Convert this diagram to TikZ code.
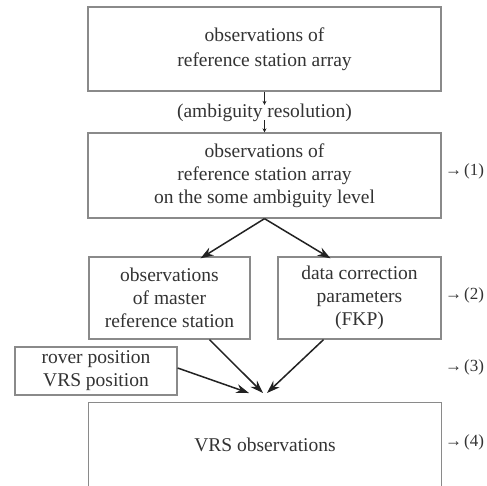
\documentclass[tikz,border=0pt]{standalone}
\usepackage{fontspec}
\setmainfont{Liberation Serif}
\usetikzlibrary{arrows.meta,calc}
\definecolor{boxgray}{HTML}{8A8A8A}
\definecolor{txt}{HTML}{333333}
\definecolor{arr}{HTML}{222222}
\begin{document}
\begin{tikzpicture}[x=1pt,y=-1pt,
  every node/.style={text=txt,font=\fontsize{19.5}{23}\selectfont,align=center,inner sep=0pt},
  box/.style={draw=boxgray,line width=1.3pt},
  bigarrow/.style={draw=arr,line width=1.5pt,-{Stealth[length=13pt,width=9pt]}},
  smallarrow/.style={draw=arr,line width=0.8pt,-{Stealth[length=4pt,width=4pt]}},
  lbl/.style={anchor=west,font=\fontsize{17}{20}\selectfont}]
\useasboundingbox[fill=white] (0,0) rectangle (487,485);
\node[box,minimum width=353pt,minimum height=84pt,font=\fontsize{19.5}{25}\selectfont] (top) at (264.5,49) {observations of\\reference station array};
\node (amb) at (264.5,113) {(ambiguity resolution)};
\node[box,minimum width=353pt,minimum height=85pt] (mid) at (264.5,175.5) {observations of\\reference station array\\on the some ambiguity level};
\node[box,minimum width=161pt,minimum height=82pt] (lm) at (169.5,298) {observations\\of master\\reference station};
\node[box,minimum width=163pt,minimum height=82pt] (rm) at (359.5,298) {data correction\\parameters\\(FKP)};
\node[box,minimum width=162pt,minimum height=48pt] (rover) at (96,371) {rover position\\VRS position};
\node[minimum width=352pt,minimum height=83pt] (vrs) at (265,444.5) {VRS observations};
\draw[box] (vrs.south west) -- (vrs.north west) -- (vrs.north east) -- (vrs.south east);
\node[lbl] (l1) at (445,171) {→\kern2pt(1)};
\node[lbl] (l2) at (445,295) {→\kern2pt(2)};
\node[lbl] (l3) at (445,367) {→\kern2pt(3)};
\node[lbl] (l4) at (445,442) {→\kern2pt(4)};
\draw[smallarrow] (top.south) -- ([yshift=-1pt]amb.north);
\draw[smallarrow] ([yshift=2pt]amb.south) -- (mid.north);
\draw[bigarrow] (mid.south) -- ([xshift=31pt,yshift=-2pt]lm.north);
\draw[bigarrow] (mid.south) -- ([xshift=-29pt,yshift=-2pt]rm.north);
\coordinate (m1) at (263,393);
\coordinate (m2) at (267,393);
\coordinate (m3) at (249,393);
\draw[bigarrow] ([xshift=40pt]lm.south) -- (m1);
\draw[bigarrow] ([xshift=-36pt]rm.south) -- (m2);
\draw[bigarrow] ([yshift=3pt]rover.east) -- (m3);
\end{tikzpicture}
\end{document}
